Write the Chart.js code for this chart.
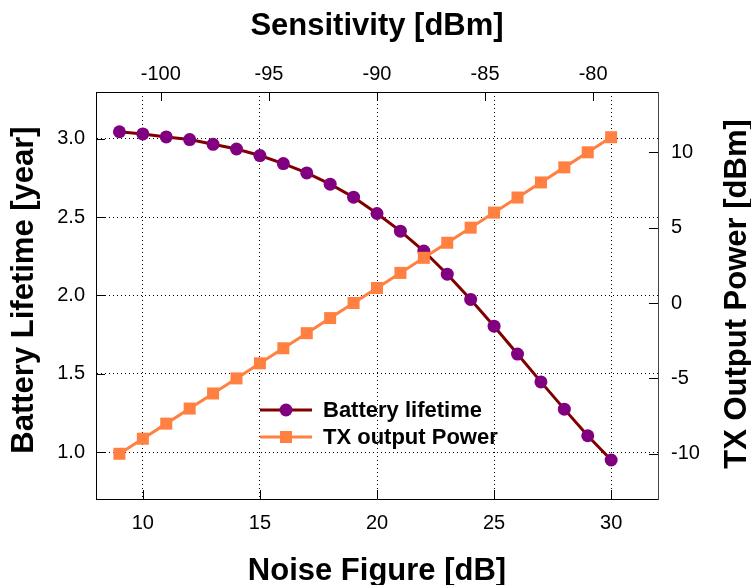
<!DOCTYPE html>
<html>
<head>
<meta charset="utf-8">
<script src="https://cdn.jsdelivr.net/npm/chart.js@4.4.0/dist/chart.umd.min.js"></script>
<style>
  html, body { margin: 0; padding: 0; background: #fff; }
  #wrap { width: 751px; height: 585px; }
</style>
</head>
<body>
<div id="wrap"><canvas id="grafico" width="751" height="585"></canvas></div>
<script>
// Dados
const noiseFigure      = [9, 10, 11, 12, 13, 14, 15, 16, 17, 18, 19, 20, 21, 22, 23, 24, 25, 26, 27, 28, 29, 30];
const batteryLifetime  = [3.046, 3.032, 3.013, 2.996, 2.966, 2.936, 2.894, 2.843, 2.783, 2.711, 2.628, 2.524,
                          2.411, 2.284, 2.136, 1.975, 1.804, 1.626, 1.448, 1.274, 1.104, 0.949];
const txOutputPower    = [-10, -9, -8, -7, -6, -5, -4, -3, -2, -1, 0, 1, 2, 3, 4, 5, 6, 7, 8, 9, 10, 11];

// Ticks
const noiseTicks       = [10, 15, 20, 25, 30];
const sensitivityTicks = [-100, -95, -90, -85, -80];
const lifetimeTicks    = [1.0, 1.5, 2.0, 2.5, 3.0];
const powerTicks       = [-10, -5, 0, 5, 10];

const FONTE = '"Liberation Sans", Arial, Helvetica, sans-serif';
const TICK  = 9;

const fixarTicks = lista => scale => { scale.ticks = lista.map(v => ({ value: v })); };

// Marcas internas, títulos dos eixos e legenda
const molduraETitulos = {
  id: 'molduraETitulos',
  beforeDatasetsDraw(chart) {
    const { ctx, chartArea: a, scales } = chart;
    ctx.save();
    ctx.strokeStyle = '#000';
    ctx.lineWidth = 1;
    ctx.beginPath();
    noiseTicks.forEach(v => {
      const px = Math.round(scales.x.getPixelForValue(v)) + 0.5;
      ctx.moveTo(px, a.bottom); ctx.lineTo(px, a.bottom - TICK);
    });
    sensitivityTicks.forEach(v => {
      const px = Math.round(scales.x2.getPixelForValue(v)) + 0.5;
      ctx.moveTo(px, a.top); ctx.lineTo(px, a.top + TICK);
    });
    lifetimeTicks.forEach(v => {
      const py = Math.round(scales.y.getPixelForValue(v)) + 0.5;
      ctx.moveTo(a.left, py); ctx.lineTo(a.left + TICK, py);
    });
    powerTicks.forEach(v => {
      const py = Math.round(scales.y2.getPixelForValue(v)) + 0.5;
      ctx.moveTo(a.right, py); ctx.lineTo(a.right - TICK, py);
    });
    ctx.stroke();
    ctx.restore();
  },
  afterDraw(chart) {
    const { ctx, chartArea: a } = chart;
    const cx = (a.left + a.right) / 2;
    ctx.save();
    ctx.fillStyle = '#000';
    ctx.font = 'bold 31px ' + FONTE;
    ctx.textAlign = 'center';
    ctx.textBaseline = 'alphabetic';
    ctx.fillText('Sensitivity [dBm]', cx, 35);
    ctx.fillText('Noise Figure [dB]', cx, 580);

    ctx.save();
    ctx.translate(33, 290);
    ctx.rotate(-Math.PI / 2);
    ctx.fillText('Battery Lifetime [year]', 0, 0);
    ctx.restore();

    ctx.save();
    ctx.translate(746, 294);
    ctx.rotate(-Math.PI / 2);
    ctx.fillText('TX Output Power [dBm]', 0, 0);
    ctx.restore();

    // Legenda
    const lx = a.left + 164, ly = a.top + 318;
    ctx.font = 'bold 22px ' + FONTE;
    ctx.textAlign = 'left';
    ctx.textBaseline = 'middle';
    [chart.data.datasets[1], chart.data.datasets[0]].forEach((ds, i) => {
      const y = ly + i * 27;
      ctx.strokeStyle = ds.borderColor;
      ctx.lineWidth = ds.borderWidth;
      ctx.beginPath(); ctx.moveTo(lx, y); ctx.lineTo(lx + 52, y); ctx.stroke();
      ctx.fillStyle = ds.pointBackgroundColor;
      ctx.strokeStyle = ds.pointBackgroundColor;
      Chart.helpers.drawPoint(ctx, { pointStyle: ds.pointStyle, radius: ds.pointRadius, rotation: 0, borderWidth: 0 }, lx + 26, y);
      ctx.fillStyle = '#000';
      ctx.fillText(ds.label, lx + 63, y + 1);
    });
    ctx.restore();
  }
};

const estiloTick = { color: '#000', font: { family: FONTE, size: 20 } };

new Chart(document.getElementById('grafico').getContext('2d'), {
  type: 'line',
  data: { datasets: [
    {
      label: 'TX output Power',
      data: noiseFigure.map((x, i) => ({ x, y: txOutputPower[i] })),
      yAxisID: 'y2',
      borderColor: '#ff8040',
      borderWidth: 3,
      pointStyle: 'rect',
      pointRadius: 8.5,
      pointBorderWidth: 0,
      pointBackgroundColor: '#ff8040',
      tension: 0,
      order: 0
    },
    {
      label: 'Battery lifetime',
      data: noiseFigure.map((x, i) => ({ x, y: batteryLifetime[i] })),
      yAxisID: 'y',
      borderColor: '#800000',
      borderWidth: 3,
      pointStyle: 'circle',
      pointRadius: 6.5,
      pointBorderWidth: 0,
      pointBackgroundColor: '#800080',
      tension: 0,
      order: 1
    }
  ]},
  options: {
    responsive: false,
    animation: false,
    devicePixelRatio: 1,
    layout: { padding: 0 },
    plugins: { legend: { display: false }, tooltip: { enabled: false } },
    scales: {
      x: {
        type: 'linear', position: 'bottom', min: 8, max: 32,
        afterBuildTicks: fixarTicks(noiseTicks),
        afterFit: s => { s.height = 86; },
        grid: { color: '#000', lineWidth: 1, drawTicks: false },
        border: { display: true, color: '#000', width: 1, dash: [1, 3] },
        ticks: { ...estiloTick, padding: 12, maxRotation: 0 }
      },
      x2: {
        type: 'linear', position: 'top', min: -103, max: -77,
        afterBuildTicks: fixarTicks(sensitivityTicks),
        afterFit: s => { s.height = 92; },
        grid: { drawOnChartArea: false, drawTicks: false },
        border: { display: true, color: '#000', width: 1 },
        ticks: { ...estiloTick, padding: 6, maxRotation: 0 }
      },
      y: {
        type: 'linear', position: 'left', min: 0.7, max: 3.3,
        afterBuildTicks: fixarTicks(lifetimeTicks),
        afterFit: s => { s.width = 96; },
        grid: { color: '#000', lineWidth: 1, drawTicks: false },
        border: { display: true, color: '#000', width: 1, dash: [1, 3] },
        ticks: { ...estiloTick, padding: 11, callback: v => v.toFixed(1) }
      },
      y2: {
        type: 'linear', position: 'right', min: -13, max: 14,
        afterBuildTicks: fixarTicks(powerTicks),
        afterFit: s => { s.width = 93; },
        grid: { drawOnChartArea: false, drawTicks: false },
        border: { display: true, color: '#444', width: 1 },
        ticks: { ...estiloTick, padding: 13 }
      }
    }
  },
  plugins: [molduraETitulos]
});
</script>
</body>
</html>
